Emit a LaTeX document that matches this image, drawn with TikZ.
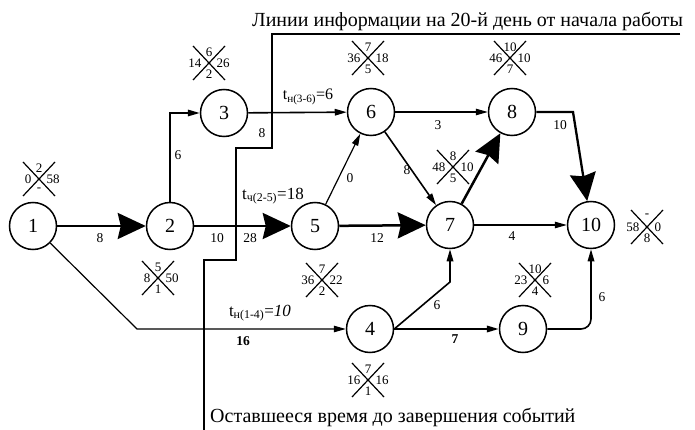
\documentclass[tikz,border=0pt]{standalone}
\usepackage{fontspec}
\setmainfont{Liberation Serif}
\usetikzlibrary{arrows.meta}
\newcommand\pcross[7]{%
  \draw[xline] (#2-16,#3-17) -- (#2+16,#3+17);
  \draw[xline] (#2+16,#3-17) -- (#2-16,#3+17);
  \node[xnum] (#1t) at (#2,#3-11) {#4};
  \node[xnum,anchor=east] (#1l) at (#2-7,#3) {#5};
  \node[xnum,anchor=west] (#1r) at (#2+7,#3) {#6};
  \node[xnum] (#1b) at (#2,#3+11) {#7};
}
\begin{document}
\begin{tikzpicture}[x=1pt,y=-1pt,
  ev/.style={circle,draw,line width=1.5pt,minimum size=47pt,inner sep=0pt,font=\fontsize{20}{20}\selectfont},
  crit/.style={line width=2.5pt,-{Stealth[length=28pt,width=26pt,inset=3pt]}},
  work/.style={line width=1.6pt,-{Triangle[length=12pt,width=6.5pt]}},
  thinwork/.style={line width=1.2pt,-{Triangle[length=12pt,width=6.5pt]}},
  lab/.style={font=\fontsize{13.5}{13.5}\selectfont,inner sep=0pt},
  tlab/.style={font=\fontsize{16}{16}\selectfont,inner sep=0pt},
  xnum/.style={font=\fontsize{13}{13}\selectfont,inner sep=0.5pt},
  xline/.style={line width=1.2pt},
  info/.style={line width=1.6pt},
  caption/.style={font=\fontsize{20}{20}\selectfont,inner sep=0pt}
]
\useasboundingbox (0,0) rectangle (695,430);

% events
\node[ev] (n1) at (33,226) {1};
\node[ev] (n2) at (170,226) {2};
\node[ev] (n3) at (224,113) {3};
\node[ev] (n4) at (370,329) {4};
\node[ev] (n5) at (315,226) {5};
\node[ev] (n6) at (371,112) {6};
\node[ev] (n7) at (450,225) {7};
\node[ev] (n8) at (512,112) {8};
\node[ev] (n9) at (523,329) {9};
\node[ev] (n10) at (591,225) {10};

% crosses
\pcross{x1}{39}{179}{2}{0}{58}{-}
\pcross{x2}{158}{278}{5}{8}{50}{1}
\pcross{x3}{209}{63}{6}{14}{26}{2}
\pcross{x5}{322}{280}{7}{36}{22}{2}
\pcross{x6}{368}{58}{7}{36}{18}{5}
\pcross{x8}{510}{58}{10}{46}{10}{7}
\pcross{x7}{453}{167}{8}{48}{10}{5}
\pcross{x10}{647}{227}{-}{58}{0}{8}
\pcross{x9}{535}{280}{10}{23}{6}{4}
\pcross{x4}{368}{380}{7}{16}{16}{1}

% helper coordinates
\coordinate (c14) at (137,329);
\coordinate (c47) at (450,282);
\coordinate (c810) at (573,112);

% works
\draw[crit] (n1) -- (n2);
\draw[work] (n2) |- (n3);
\draw[work] (n3) -- (n6);
\draw[crit] (n2) -- (n5);
\draw[thinwork] (n5) -- (n6);
\draw[work] (n6) -- (n7);
\draw[thinwork] (n6) -- (n8);
\draw[crit] (n5) -- (n7);
\draw[crit] (n7) -- (n8);
\draw[thinwork] (n7) -- (n10);
\draw[crit,line width=2.3pt] (n8) -- (c810) -- (n10);
\draw[thinwork] (n1) -- (c14) -- (n4);
\draw[work] (n4.east) -- (c47) -- (n7);
\draw[work,line width=1.9pt] (n4) -- (n9);
\draw[work,rounded corners=10pt] (n9) -| (n10);

% work labels
\node[lab] (l12) at (100,238) {8};
\node[lab] (l23) at (178,155) {6};
\node[lab] (l36) at (262,133) {8};
\node[tlab] (t36) at (308,97) {t\textsubscript{н(3-6)}=6};
\node[lab] (l25a) at (217,238) {10};
\node[lab] (l25b) at (250,238) {28};
\node[tlab,font=\fontsize{17}{17}\selectfont] (t25) at (273,196) {t\textsubscript{ч(2-5)}=18};
\node[lab] (l56) at (350,178) {0};
\node[lab] (l67) at (407,170) {8};
\node[lab] (l68) at (438,125) {3};
\node[lab] (l57) at (377,238) {12};
\node[lab] (l710) at (512,236) {4};
\node[lab] (l810) at (560,125) {10};
\node[tlab,font=\fontsize{17}{17}\selectfont] (t14) at (260,313) {t\textsubscript{н(1-4)}=\textit{10}};
\node[lab,font=\bfseries\fontsize{13.5}{13.5}\selectfont] (l14) at (243,341) {16};
\node[lab] (l47) at (437,305) {6};
\node[lab,font=\bfseries\fontsize{13.5}{13.5}\selectfont] (l49) at (455,339) {7};
\node[lab] (l910) at (602,297) {6};

% information lines
\node[caption,anchor=base west] (toptext) at (252,27) {Линии информации на 20-й день от начала работы};
\node[caption,anchor=base west] (bottext) at (210,422) {Оставшееся время до завершения событий};
\coordinate (i0) at (680,34);
\coordinate (i1) at (272,34);
\coordinate (i2) at (272,148);
\coordinate (i3) at (236,148);
\coordinate (i4) at (236,260);
\coordinate (i5) at (204,260);
\coordinate (i6) at (204,430);
\draw[info] (i0) -- (i1) -- (i2) -- (i3) -- (i4) -- (i5) -- (i6);
\end{tikzpicture}
\end{document}
